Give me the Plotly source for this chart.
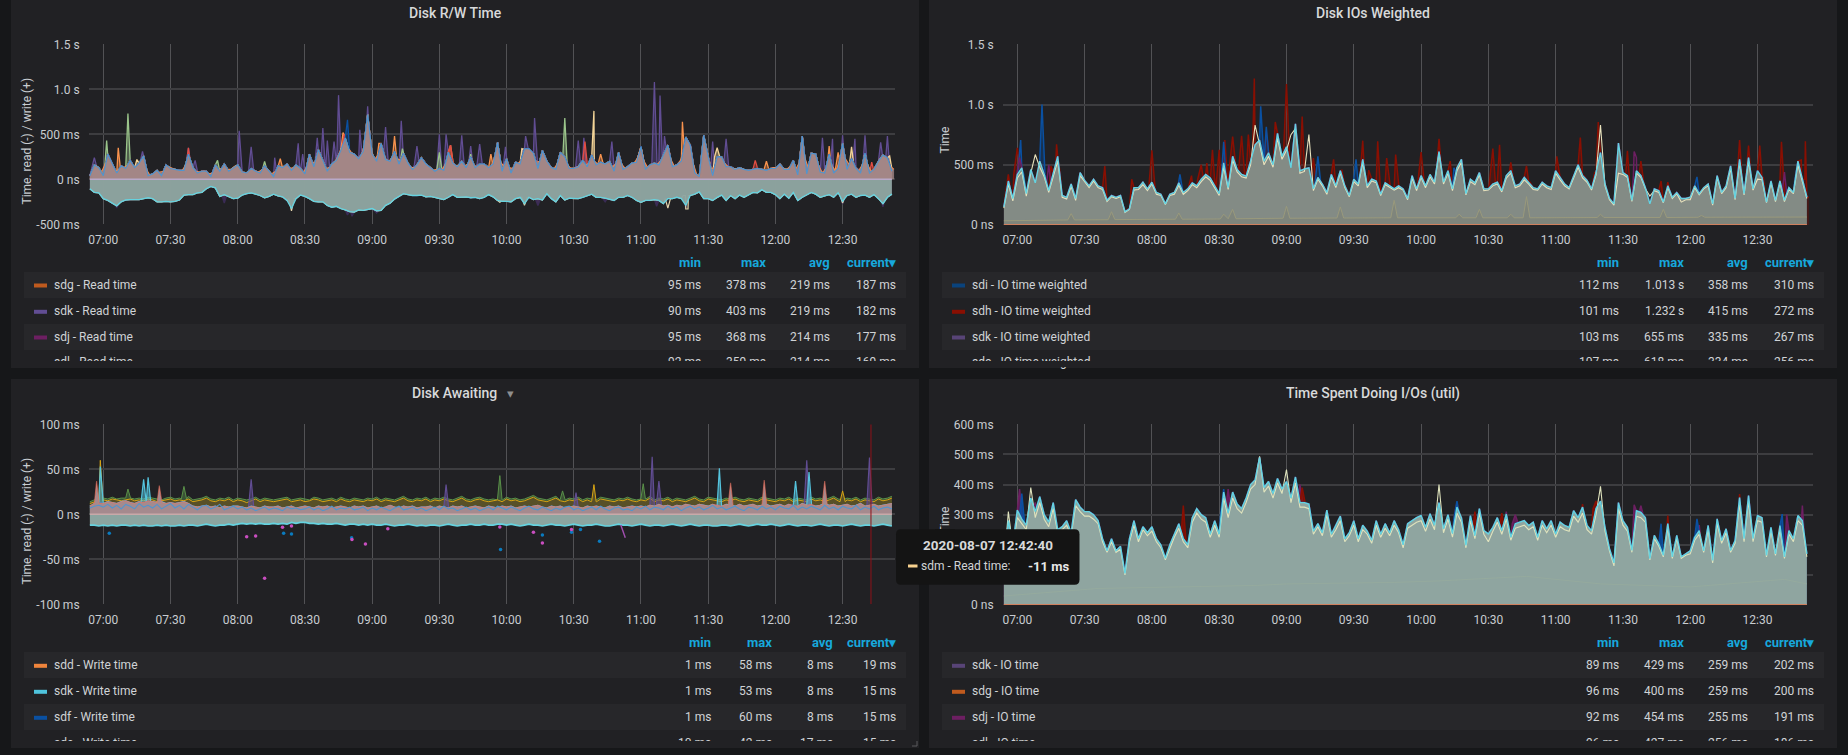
import pandas as pd
import plotly.graph_objects as go

W, H = 1848, 755
DAY = "2020-08-07 "

# ---- shared time axis labels -------------------------------------------------
tick_labels = ["07:00", "07:30", "08:00", "08:30", "09:00", "09:30",
               "10:00", "10:30", "11:00", "11:30", "12:00", "12:30"]

# ---- Disk R/W Time (ms, one sample every two minutes from 06:54) -------------
rw_write = [40, 160, 130,
    40,280,170,70,150,120,210,130,180,260,40,60,100,40,160,120,110,100,100,280,130,70,90,90,30,160,90,170,90,130,
    160,80,70,120,90,70,150,90,30,150,130,170,100,160,120,60,280,140,330,210,90,170,210,320,460,300,280,230,310,720,
    280,200,400,220,200,310,170,290,180,110,160,240,170,130,90,120,100,300,180,140,200,130,250,130,170,170,130,170,410,90,
    230,70,190,170,340,340,290,120,320,200,130,110,300,250,120,120,140,210,140,270,160,190,170,200,90,300,110,140,180,190,
    360,110,160,180,160,270,380,140,160,200,470,380,70,30,490,250,40,250,250,140,140,110,130,110,100,110,120,110,100,120,
    120,170,110,110,210,50,480,60,290,280,80,70,280,70,120,400,110,230,120,70,290,70,110,200,270,240,90]
# second disk, sampled on the odd minutes from 06:55
rw_sdg_write = [60, 150, 70,
    180,190,90,110,130,160,150,130,200,120,40,70,80,90,140,120,100,90,170,170,90,80,90,60,70,110,120,110,110,150,
    110,60,90,100,80,110,120,60,90,140,140,120,130,130,70,140,190,190,240,120,130,180,260,380,360,290,240,250,420,380,
    220,280,280,190,240,230,210,220,130,130,190,190,140,100,110,100,180,220,150,160,150,170,170,130,160,140,140,260,200,140,
    130,120,170,220,320,300,190,200,240,150,110,180,260,170,110,130,160,160,180,200,170,170,180,130,180,180,120,150,180,260,
    220,130,170,160,210,300,240,140,170,310,410,200,50,30,330,120,130,230,190,140,120,120,120,100,100,110,110,100,100,130,
    130,130,110,150,110,200,250,110,270,160,70,140,160,90,240,240,160,140,90,170,170,80,150,240,240,150,110]
rw_read = [-105, -145, -150,
    -215,-235,-270,-295,-250,-230,-225,-225,-225,-215,-205,-215,-250,-250,-245,-250,-245,-230,-175,-170,-170,-150,-145,-105,-80,-95,-190,-170,-190,-215,
    -210,-175,-160,-150,-165,-180,-205,-190,-165,-185,-195,-235,-325,-215,-175,-190,-215,-245,-250,-250,-290,-310,-300,-325,-340,-360,-365,-340,-345,-335,
    -325,-350,-345,-290,-265,-220,-185,-160,-170,-180,-180,-175,-195,-190,-200,-215,-225,-200,-170,-200,-200,-195,-205,-200,-215,-200,-170,-195,-235,-245,
    -245,-250,-215,-200,-270,-200,-225,-215,-230,-160,-215,-250,-180,-230,-210,-215,-215,-200,-180,-165,-200,-200,-210,-225,-235,-200,-200,-180,-200,-235,
    -255,-235,-235,-225,-235,-270,-215,-215,-200,-215,-290,-180,-165,-140,-215,-215,-235,-200,-175,-235,-180,-215,-175,-200,-175,-145,-150,-115,-145,-145,
    -170,-215,-165,-210,-145,-235,-200,-175,-145,-165,-200,-185,-170,-200,-150,-245,-180,-165,-200,-180,-175,-200,-170,-215,-270,-200,-165]
rw_sdk_t = ["06:56","07:17:30","07:38","07:41","08:00:40","08:06","08:16:30","08:27","08:29","08:35:30","08:38","08:40",
            "08:43","08:45","08:54:30","08:58","09:06","09:13","09:20","09:30","09:33","09:40","09:44","09:48","09:59:30",
            "10:08:30","10:12:30","10:32","10:34:30","10:47","11:00","11:06","11:08:30","11:10:30","11:21","11:32","11:38",
            "12:21","12:25:30","12:30","12:35:30","12:40","12:47","12:50"]
rw_sdk_v = [240,310,350,210,540,360,240,400,280,460,570,430,420,935,550,810,580,650,370,500,500,490,370,390,360,
            480,680,430,460,420,370,1080,930,480,400,420,450,460,450,490,450,490,410,480]
rw_sde_t = ["07:01:30","07:11","07:51","08:12","09:13:30","09:30","09:44","10:26"]
rw_sde_v = [430,730,210,200,340,300,280,680]
rw_sdd_t = ["07:06:40","08:19","08:47","09:03","09:10","09:35","09:53","10:42","11:18:30","11:56","12:24","12:28"]
rw_sdd_v = [350,230,520,400,480,380,280,280,640,200,370,300]
rw_sdm_t = ["07:15","10:08","10:38","10:39","11:34","12:34","12:51"]
rw_sdm_v = [220,330,270,760,350,360,260]
rw_sdh_t = ["07:38","08:47:30","09:35","10:35","11:51","12:43"]
rw_sdh_v = [350,500,380,420,210,190]
rw_sdi_t = ["08:49","11:00"]
rw_sdi_v = [660,370]
rw_read_dark_t = ["07:06","07:54","08:24","08:49","08:51","09:02","10:14","10:44","11:07","11:20","12:30","12:48"]
rw_read_dark_v = [-320,-265,-335,-395,-410,-375,-290,-250,-300,-320,-275,-305]
rw_read_cream_t = ["08:24","09:57","10:08","11:12","11:20","11:21","12:30"]
rw_read_cream_v = [-350,-255,-290,-320,-330,-330,-265]

# ---- Disk IOs Weighted (ms) --------------------------------------------------
io_weighted = [150, 365, 220,
    420,475,260,460,350,530,420,285,430,570,245,230,340,220,435,370,325,380,325,310,205,245,230,245,110,135,310,310,355,300,
    355,270,255,175,255,270,350,270,300,350,325,380,420,390,325,260,515,310,570,460,420,405,530,665,705,530,600,500,760,570,
    650,475,840,450,465,475,300,395,340,270,420,325,450,325,245,380,340,545,325,380,365,255,350,325,300,325,300,220,410,300,
    410,325,420,355,610,355,450,300,475,545,260,380,350,435,300,300,340,355,285,410,450,325,340,395,355,310,300,355,325,310,
    450,395,340,310,410,500,410,370,300,435,600,340,220,175,680,435,410,205,450,410,310,175,300,285,190,325,230,270,220,220,
    230,325,260,310,340,175,410,270,325,490,220,545,260,560,300,450,395,190,365,205,365,205,310,270,530,380,230]
io_sdm = [140, 340, 200,
    390,440,240,430,585,480,400,270,410,530,230,215,320,205,410,360,310,365,310,295,195,235,220,235,105,130,290,295,335,285,
    340,255,245,170,245,255,330,255,285,335,310,360,400,370,310,245,480,295,540,440,400,390,500,830,670,500,570,480,720,545,
    620,750,800,430,445,750,285,380,325,255,400,310,430,310,235,360,325,520,310,365,350,245,335,310,290,310,290,210,390,285,
    395,310,400,340,600,340,430,285,450,520,250,360,335,415,285,290,325,340,275,390,430,310,325,375,340,295,290,340,310,295,
    430,375,325,300,390,480,390,355,290,415,830,325,210,165,430,420,395,195,430,395,300,240,285,270,185,310,220,260,190,210,
    210,310,250,300,325,165,395,260,310,470,210,520,250,530,290,380,375,185,350,195,350,195,295,260,500,365,220]
io_sdh_t = ["06:56","07:00","07:15","07:17:30","07:39","07:51","08:00","08:17:40","08:22","08:24:30","08:27","08:30","08:32:30",
            "08:36","08:40","08:43","08:45:40","08:51","08:55","09:00","09:07","09:12","09:21","09:24:40","09:34","09:36:40",
            "09:40:40","09:44:40","09:48:40","10:00","10:08","10:13","10:32","10:35","10:40","10:47","11:00:30","11:11","11:19",
            "11:32","11:38","11:47","11:50","12:22","12:26","12:31","12:40:40","12:49:30","12:51:20"]
io_sdh_v = [420,640,490,670,490,380,620,410,500,515,625,625,705,735,740,750,1215,780,855,1170,900,555,545,455,700,455,
            695,555,585,605,715,530,635,665,520,490,570,725,855,615,530,365,355,705,660,660,690,540,695]
io_sdi_t = ["07:01:30","07:11","08:12:30","08:32","08:48:30","08:51","09:14","09:31","10:16","12:03","12:48"]
io_sdi_v = [705,1000,420,690,985,815,570,545,420,400,530]
io_sdj_t = ["07:01","07:14","11:35","11:36","12:42"]
io_sdj_v = [560,500,610,560,440]
io_low_t = ["06:54","07:22:30","07:24","07:25:30","07:40:30","07:42","07:43:30","08:10:30","08:12","08:13:30","08:30:30","08:32",
            "08:34","08:36","08:37:30","08:58:30","09:00","09:01:30","09:22:30","09:24","09:25:30","09:46:30","09:48","09:49:30",
            "10:15:30","10:17","10:18:30","10:24:30","10:26","10:27:30","10:38:30","10:40","10:41:30","10:45:30","10:47","10:48:30",
            "11:18:30","11:20","11:21:30","11:46:30","11:48","11:49:30","12:03:30","12:05","12:06:30","12:52"]
io_low_v = [35,42,95,42,44,110,45,48,100,48,50,90,52,130,52,56,155,56,58,150,58,60,205,60,60,90,60,60,130,60,60,90,60,60,235,60,
            62,90,62,62,130,62,64,80,64,66]

# ---- Disk Awaiting (ms) ------------------------------------------------------
aw_sde_write = [14, 16, 17,
    18,17,19,17,18,18,19,17,18,17,19,18,17,16,18,19,17,18,17,20,16,17,18,20,17,16,18,17,19,16,
    18,17,16,17,19,16,18,17,16,17,18,19,16,17,18,17,16,19,18,16,17,18,16,19,17,16,18,17,16,18,
    17,19,16,18,17,16,18,20,17,16,18,17,19,16,18,17,19,17,16,18,20,17,16,18,19,17,16,17,18,16,
    19,17,18,16,17,19,21,18,17,16,18,20,17,16,18,17,19,16,18,17,16,19,18,17,16,18,17,19,17,16,
    18,17,20,16,18,17,19,16,18,17,16,18,20,17,16,19,18,17,16,18,17,19,17,16,18,17,16,19,18,17,
    16,18,17,19,16,18,17,16,19,17,18,16,18,20,17,16,18,17,19,16,18,17,16,19,17,18,20]
aw_sdm_write = [12, 14, 15,
    16,15,17,16,15,16,17,15,16,15,17,16,14,15,16,17,15,16,15,17,14,15,16,18,15,14,16,15,17,14,
    16,15,13,15,17,14,16,15,14,15,16,17,14,15,16,14,15,17,16,14,15,16,14,17,15,14,16,15,14,16,
    15,17,14,16,15,14,16,18,15,14,16,15,17,14,16,15,17,15,14,16,18,15,14,16,17,15,14,15,16,14,
    17,15,16,14,15,17,19,16,15,14,16,18,15,14,16,15,17,14,16,15,14,17,16,15,14,16,15,17,15,14,
    16,15,18,14,16,15,17,14,16,15,14,16,18,15,14,17,16,15,14,16,15,17,15,14,16,15,14,17,16,15,
    14,16,15,17,14,16,15,14,17,15,16,14,16,18,15,14,16,15,17,14,16,15,14,17,15,16,18]
aw_sdd_write = [9, 12, 14,
    12,14,13,12,14,15,13,12,14,13,15,14,13,14,12,13,12,13,14,12,9,8,9,10,8,9,7,9,8,9,
    9,8,7,9,8,7,9,8,8,9,7,8,9,7,8,9,8,7,9,8,9,7,8,9,8,7,9,8,9,7,
    8,9,7,8,10,8,7,9,8,9,7,8,8,9,7,9,8,7,9,8,9,7,8,9,8,7,9,8,7,9,
    8,9,7,8,9,8,9,10,8,7,9,8,9,7,8,9,8,7,9,8,9,8,7,9,8,9,7,8,9,8,
    9,8,10,9,11,9,10,8,10,9,11,10,9,11,10,9,11,10,9,11,10,9,11,9,10,11,9,10,11,9,
    10,11,9,11,10,9,12,10,11,9,10,12,10,11,9,10,11,9,10,12,9,10,11,9,10,11,12]
aw_sdf_write = [7, 9, 10,
    8,11,7,10,6,11,9,6,12,8,10,7,11,6,9,12,7,10,6,11,8,5,9,10,6,8,11,5,7,9,
    6,8,5,7,4,6,8,5,7,6,4,8,6,7,5,6,8,5,7,4,6,9,5,7,6,8,5,6,8,4,
    7,5,8,6,4,7,9,5,6,8,5,7,4,6,8,5,9,6,7,4,6,8,5,7,4,6,8,5,9,7,
    5,8,6,4,7,9,6,5,8,6,4,7,5,8,9,5,7,4,6,8,5,9,6,4,7,8,5,6,4,8,
    6,9,5,8,7,5,9,6,8,4,7,9,6,8,5,7,10,6,8,5,7,9,6,4,8,7,5,9,6,8,
    5,9,7,6,10,5,8,6,9,7,5,10,6,8,5,9,7,6,10,5,8,6,9,5,7,8,6]
aw_read = [-12, -12, -13,
    -12,-13,-12,-13,-12,-12,-13,-12,-13,-12,-13,-13,-12,-13,-12,-13,-13,-12,-13,-12,-12,-13,-12,-11,-12,-13,-12,-12,-11,-12,
    -11,-10,-11,-10,-11,-10,-11,-11,-10,-11,-10,-11,-9,-10,-9,-9,-10,-10,-11,-10,-11,-11,-10,-11,-12,-11,-11,-12,-11,-12,
    -11,-12,-12,-11,-12,-13,-12,-12,-11,-12,-13,-12,-13,-12,-12,-13,-12,-11,-12,-13,-12,-12,-11,-12,-12,-11,-12,-12,-11,-11,
    -12,-11,-12,-13,-12,-11,-12,-12,-13,-12,-11,-12,-12,-13,-12,-11,-12,-13,-12,-12,-11,-12,-13,-13,-12,-11,-12,-12,-13,-12,
    -11,-12,-13,-12,-12,-13,-12,-11,-12,-13,-12,-11,-12,-13,-12,-12,-13,-13,-12,-12,-13,-12,-11,-12,-13,-12,-11,-12,-12,-11,
    -12,-13,-12,-11,-12,-13,-12,-12,-13,-12,-11,-12,-13,-12,-12,-13,-12,-11,-12,-13,-12,-12,-13,-12,-11,-12,-13]
aw_sdk_t = ["08:06","09:33","10:31","11:05","11:08","12:14","12:42"]
aw_sdk_v = [39,33,24,64,37,60,63]
aw_sdg_t = ["07:11","07:36","09:57","10:25","11:01"]
aw_sdg_v = [28,31,43,26,34]
aw_sdd_t = ["06:57","07:25","11:40","11:55","12:22"]
aw_sdd_v = [37,32,35,38,37]
aw_sdl_t = ["06:58:40","07:18","07:20","11:35","12:09","12:15"]
aw_sdl_v = [53,39,41,51,37,47]
aw_sdm_t = ["06:58:40","10:39","12:30"]
aw_sdm_v = [60,33,26]
aw_stray_blue_t = ["07:02:40","08:20:30","08:24","08:50:50","09:57:20","10:16","10:29","10:33","10:41:30"]
aw_stray_blue_v = [-21,-21,-22,-26,-39,-23,-20,-17,-30]
aw_stray_pink_t = ["08:04","08:08","08:12","08:20","08:24","08:51","08:57","09:07","09:57","10:12","10:16","10:29"]
aw_stray_pink_v = [-25,-24,-71,-14.5,-13,-28,-33,-16,-14,-20,-32,-17]
aw_tail_t = ["10:51","10:53"]
aw_tail_v = [-12,-26]
cursor_time = DAY + "12:42:40"

# ---- Time Spent Doing I/Os (ms) ----------------------------------------------
util_sdk = [130, 280, 200,
    315,285,265,355,310,360,300,275,340,250,260,280,240,350,325,310,310,300,280,220,180,220,180,195,105,220,280,220,260,240,
    260,220,200,155,200,235,270,220,200,290,320,300,290,235,280,235,375,305,375,335,320,355,400,415,490,390,410,370,420,385,
    410,355,425,340,340,335,245,270,240,315,235,265,295,220,240,280,220,265,245,215,280,235,270,240,280,250,200,270,280,290,
    297,258,303,265,340,253,300,237,325,290,198,297,230,320,247,236,258,290,247,302,225,270,275,280,264,275,225,280,253,280,
    236,275,264,258,313,290,325,264,247,320,345,258,187,140,340,280,258,181,313,308,290,154,231,203,165,270,160,231,160,170,
    180,225,247,180,264,148,286,214,253,181,214,357,220,363,220,297,290,165,258,170,264,160,247,220,297,280,170]
util_sdm = [120, 310, 190,
    290,270,250,390,290,340,285,260,320,240,250,265,230,330,310,295,295,285,270,210,175,210,175,185,100,210,265,210,250,230,
    245,210,190,150,190,225,255,210,190,275,305,285,275,225,265,225,355,290,355,320,305,340,385,400,494,375,395,355,405,370,
    450,340,405,325,325,320,235,260,230,300,225,250,280,210,230,265,210,250,235,205,265,225,255,230,265,240,190,255,265,275,
    280,245,285,250,400,240,285,225,305,275,190,280,220,305,235,210,245,275,235,285,215,255,260,265,250,260,215,265,240,265,
    225,260,250,245,295,275,305,250,235,300,394,245,180,130,320,265,245,175,295,290,275,150,220,195,160,255,155,220,155,165,
    170,215,235,175,250,140,270,205,240,175,205,335,210,345,210,280,275,160,245,165,250,155,235,210,280,265,160]
util_sdj_t = ["07:01","07:08","08:34","09:06","10:38","10:42","11:35","11:38","12:04","12:43","12:50"]
util_sdj_v = [385,340,385,400,310,300,333,330,265,300,330]
util_sdh_t = ["08:14","09:07","10:16","10:24","10:36","11:12","11:18","11:50","12:22"]
util_sdh_v = [330,390,340,310,305,335,345,297,368]
util_sdi_t = ["07:02","08:32","10:16","11:47","12:03","12:41"]
util_sdi_v = [370,385,345,270,286,302]
util_low_t = ["06:54","07:36","08:12","08:47","09:00","09:48","10:08","10:47","11:20","12:00","12:42","12:52"]
util_low_v = [30,55,60,65,70,75,80,95,70,60,85,70]

# ---- legend tables -----------------------------------------------------------
legend_columns = ["min", "max", "avg", "current▾"]
legend_rw = [("sdg - Read time", "95 ms", "378 ms", "219 ms", "187 ms"),
             ("sdk - Read time", "90 ms", "403 ms", "219 ms", "182 ms"),
             ("sdj - Read time", "95 ms", "368 ms", "214 ms", "177 ms"),
             ("sdl - Read time", "92 ms", "359 ms", "214 ms", "169 ms")]
legend_io = [("sdi - IO time weighted", "112 ms", "1.013 s", "358 ms", "310 ms"),
             ("sdh - IO time weighted", "101 ms", "1.232 s", "415 ms", "272 ms"),
             ("sdk - IO time weighted", "103 ms", "655 ms", "335 ms", "267 ms"),
             ("sdc - IO time weighted", "107 ms", "618 ms", "334 ms", "256 ms")]
legend_aw = [("sdd - Write time", "1 ms", "58 ms", "8 ms", "19 ms"),
             ("sdk - Write time", "1 ms", "53 ms", "8 ms", "15 ms"),
             ("sdf - Write time", "1 ms", "60 ms", "8 ms", "15 ms"),
             ("sde - Write time", "10 ms", "42 ms", "17 ms", "15 ms")]
legend_util = [("sdk - IO time", "89 ms", "429 ms", "259 ms", "202 ms"),
               ("sdg - IO time", "96 ms", "400 ms", "259 ms", "200 ms"),
               ("sdj - IO time", "92 ms", "454 ms", "255 ms", "191 ms"),
               ("sdl - IO time", "96 ms", "427 ms", "256 ms", "186 ms")]
swatches_rw = ["#bf5a1e", "#614d93", "#6d1f62"]
swatches_io = ["#0a437c", "#890f02", "#584477"]
swatches_aw = ["#ef843c", "#4fc3dc", "#0a50a1"]
swatches_util = ["#584477", "#bf5a1e", "#6d1f62"]

PAGE, PANEL, ROW = "#161719", "#212124", "#27272a"
TEXT, HEAD = "#d0d3d6", "#17a8dc"
FONT = "Roboto"

fig = go.Figure()
annotations, shapes = [], []


def grid_of(values, start="06:54"):
    """Two-minute sample times for a full-length series."""
    assert len(values) == 180, len(values)
    return pd.date_range(DAY + start, periods=len(values), freq="2min")


def stamps(clock_times):
    return [pd.Timestamp(DAY + t) for t in clock_times]


def with_peaks(base, peak_times, peak_values, foot_seconds=70):
    """A series that follows `base` and carries its own read-off peaks as narrow excursions."""
    grid = grid_of(base)
    s = pd.Series(base, index=grid, dtype=float)
    foot = pd.Timedelta(seconds=foot_seconds)
    for t, v in zip(stamps(peak_times), peak_values):
        left = max(grid.searchsorted(t, side="right") - 1, 0)
        right = min(left + 1, len(base) - 1)
        rest = min(base[left], base[right]) if v > 0 else max(base[left], base[right])
        s.loc[t - foot] = rest
        s.loc[t + foot] = rest
        s.loc[t] = v
    return s.sort_index()


def tint(color, alpha):
    r, g, b = int(color[1:3], 16), int(color[3:5], 16), int(color[5:7], 16)
    return f"rgba({r},{g},{b},{alpha})"


def line(panel, x, y, color, width=1.2, fill=None):
    fig.add_trace(go.Scatter(
        x=x, y=y, mode="lines", line=dict(color=color, width=width),
        fill="tozeroy" if fill else None, fillcolor=fill,
        xaxis=f"x{panel}", yaxis=f"y{panel}", hoverinfo="skip", showlegend=False))


def text(x, y, s, size=12, color=TEXT, anchor="left", weight=400, angle=0):
    annotations.append(dict(
        x=x / W, y=1 - y / H, xref="paper", yref="paper", text=s,
        showarrow=False, xanchor=anchor, yanchor="middle", textangle=angle,
        font=dict(family=FONT, size=size, color=color, weight=weight), borderpad=0, borderwidth=0))


def cover(x0, y0, x1, y1, color):
    """Opaque strip laid over text, used where a table scrolls out of its panel."""
    annotations.append(dict(
        x=x0 / W, y=1 - y0 / H, xref="paper", yref="paper", text=" ", showarrow=False,
        xanchor="left", yanchor="top", width=x1 - x0, height=y1 - y0, bgcolor=color,
        font=dict(size=1), borderpad=0, borderwidth=0))


def rect(x0, y0, x1, y1, color, layer="below"):
    shapes.append(dict(type="rect", xref="paper", yref="paper", x0=x0 / W, x1=x1 / W,
                       y0=1 - y0 / H, y1=1 - y1 / H, fillcolor=color, line_width=0, layer=layer))


def table(left, right, text_x, swatch_x, header_y, row_ys, bands, colx, rows, swatches, clip_y, panel_bottom):
    for y0, y1 in bands:
        rect(left, y0, right, y1, ROW)
    for name, x in zip(legend_columns, colx):
        text(x, header_y, name, 13, HEAD, "right", 700)
    for i, row in enumerate(rows):
        y = row_ys[i]
        text(text_x, y, row[0])
        for cell, x in zip(row[1:], colx):
            text(x, y, cell, anchor="right")
        if i < len(swatches):
            shapes.append(dict(type="path", xref="paper", yref="paper",
                               path=f"M {swatch_x/W} {1-(y-1.2)/H} L {(swatch_x+13)/W} {1-(y-1.2)/H} "
                                    f"L {(swatch_x+13)/W} {1-(y+2.8)/H} L {swatch_x/W} {1-(y+2.8)/H} Z",
                               fillcolor=swatches[i], line_width=0, layer="below"))
    cover(left - 2, clip_y, right + 2, panel_bottom - 1, PANEL)


def axes(panel, px_left, px_right, px_top, px_bottom, xrange, yrange, yticks, ylabels):
    xkey, ykey = ("xaxis", "yaxis") if panel == 1 else (f"xaxis{panel}", f"yaxis{panel}")
    fig.update_layout({
        xkey: dict(domain=[px_left / W, px_right / W], anchor=f"y{panel}" if panel > 1 else "y",
                   type="date", range=xrange, tickmode="array", automargin=False,
                   tickvals=[DAY + t for t in tick_labels], ticktext=tick_labels,
                   showgrid=True, gridcolor="#525255", gridwidth=1, zeroline=False, showline=False,
                   ticks="outside", ticklen=4, tickcolor="rgba(0,0,0,0)",
                   tickfont=dict(family=FONT, size=12, color="#c8ccd0")),
        ykey: dict(domain=[1 - px_bottom / H, 1 - px_top / H], anchor=f"x{panel}" if panel > 1 else "x",
                   range=yrange, tickmode="array", tickvals=yticks, ticktext=ylabels, automargin=False,
                   showgrid=True, gridcolor="#3d3d40", gridwidth=1.5, zeroline=False, showline=False,
                   ticks="outside", ticklen=6, tickcolor="rgba(0,0,0,0)",
                   tickfont=dict(family=FONT, size=12, color="#c8ccd0")),
    })


# ---- panels and titles -------------------------------------------------------
for x0, y0, x1, y1 in [(11, 0, 919, 368), (929, 0, 1837, 368), (11, 379, 919, 748), (929, 379, 1837, 748)]:
    rect(x0, y0, x1, y1, PANEL)

text(455, 13, "Disk R/W Time", 14, "#d8d9da", "center", 500)
text(1373, 13, "Disk IOs Weighted", 14, "#d8d9da", "center", 500)
text(454, 393, "Disk Awaiting", 14, "#d8d9da", "center", 500)
text(510, 393, "▾", 13, "#8e8e8e", "center")
text(1373, 393, "Time Spent Doing I/Os (util)", 14, "#d8d9da", "center", 500)

# panel resize handle
shapes.append(dict(type="path", xref="paper", yref="paper", line=dict(color="#5a5a5d", width=1), layer="below",
                   path=f"M {917/W} {1-741/H} L {917/W} {1-746/H} L {912/W} {1-746/H}"))

# ---- Disk R/W Time -----------------------------------------------------------
axes(1, 89, 894.5, 44.3, 224.3, [DAY + "06:53:37", DAY + "12:53:10"], [-500, 1500],
     [-500, 0, 500, 1000, 1500], ["-500 ms", "0 ns", "500 ms", "1.0 s", "1.5 s"])
t = grid_of(rw_write)
for tt, vv, col in [(rw_sdk_t, rw_sdk_v, "#614d93"), (rw_sde_t, rw_sde_v, "#9ac48a"),
                    (rw_sdd_t, rw_sdd_v, "#f9934e"), (rw_sdm_t, rw_sdm_v, "#f4d598"),
                    (rw_sdh_t, rw_sdh_v, "#e24d42"), (rw_sdi_t, rw_sdi_v, "#0a50a1")]:
    s = with_peaks(rw_write, tt, vv)
    line(1, s.index, s.values, col, 1.3, tint(col, 0.4))
line(1, grid_of(rw_sdg_write, "06:55"), rw_sdg_write, "#f08a52", 1.1, "rgba(163,134,134,0.8)")
line(1, t, rw_write, "#5195ce", 1.15, "rgba(163,134,134,0.95)")
s = with_peaks(rw_read, rw_read_dark_t, rw_read_dark_v)
line(1, s.index, s.values, "#3a2b55", 1.4, "rgba(70,50,90,0.9)")
s = with_peaks(rw_read, rw_read_cream_t, rw_read_cream_v)
line(1, s.index, s.values, "#e6d6ae", 1.2)
line(1, t, rw_read, "#65d3e0", 1.3, "rgba(143,165,160,0.96)")
line(1, [t[0], t[-1]], [0, 0], "#b9a9c9", 1.5)

# ---- Disk IOs Weighted -------------------------------------------------------
axes(2, 1003, 1812.7, 44.3, 225, [DAY + "06:53:37", DAY + "12:54:36"], [0, 1500],
     [0, 500, 1000, 1500], ["0 ns", "500 ms", "1.0 s", "1.5 s"])
t = grid_of(io_weighted)
s = with_peaks(io_weighted, io_sdh_t, io_sdh_v, 95)
line(2, s.index, s.values, "#890f02", 1.5, "rgba(137,15,2,0.35)")
s = with_peaks(io_weighted, io_sdi_t, io_sdi_v, 80)
line(2, s.index, s.values, "#0a50a1", 1.5, "rgba(10,80,161,0.35)")
s = with_peaks(io_weighted, io_sdj_t, io_sdj_v, 80)
line(2, s.index, s.values, "#6d1f62", 1.5)
line(2, t, io_weighted, "#65d3e0", 0, "rgb(131,139,133)")
line(2, grid_of(io_sdm), io_sdm, "#e8e2bd", 1.1)
line(2, t, io_weighted, "#65d3e0", 1.4)
line(2, stamps(io_low_t), io_low_v, "#99997c", 1, "rgba(120,118,105,0.3)")
line(2, [t[0], t[-1]], [0, 0], "#d0805e", 1.8)

# ---- Disk Awaiting -----------------------------------------------------------
axes(3, 89, 894.5, 424.3, 604.3, [DAY + "06:53:37", DAY + "12:53:10"], [-100, 100],
     [-100, -50, 0, 50, 100], ["-100 ms", "-50 ms", "0 ns", "50 ms", "100 ms"])
t = grid_of(aw_sdm_write)
s = with_peaks(aw_sde_write, aw_sdg_t, aw_sdg_v)
line(3, s.index, s.values, "#5a9149", 1.0, "rgba(98,158,81,0.4)")
s = with_peaks(aw_sdm_write, aw_sdm_t, aw_sdm_v)
line(3, s.index, s.values, "#d8a414", 1.0, "rgb(88,80,40)")
s = with_peaks(aw_sdd_write, aw_sdk_t, aw_sdk_v)
line(3, s.index, s.values, "#614d93", 1.2, "rgba(97,77,147,0.5)")
s = with_peaks(aw_sdd_write, aw_sdl_t, aw_sdl_v)
line(3, s.index, s.values, "#55c4de", 1.2, "rgba(85,196,222,0.5)")
s = with_peaks(aw_sdd_write, aw_sdd_t, aw_sdd_v)
line(3, s.index, s.values, "rgba(242,112,90,0.6)", 1.1, "rgb(165,138,142)")
line(3, t, aw_sdf_write, "#5195ce", 1.1)
line(3, t, aw_read, "#65d3e0", 1.7, "rgb(140,165,160)")
line(3, [t[0], t[-1]], [0, 0], "#c9a9a9", 1.5)
line(3, stamps(aw_tail_t), aw_tail_v, "#a24fb0", 1.4)
for tt, vv, col in [(aw_stray_blue_t, aw_stray_blue_v, "#0a7bbf"), (aw_stray_pink_t, aw_stray_pink_v, "#c94ec0")]:
    fig.add_trace(go.Scatter(x=stamps(tt), y=vv, mode="markers", marker=dict(color=col, size=3.5),
                             xaxis="x3", yaxis="y3", hoverinfo="skip", showlegend=False))
shapes.append(dict(type="line", xref="x3", yref="y3", x0=cursor_time, x1=cursor_time, y0=-100, y1=100,
                   line=dict(color="#8f1218", width=1), layer="above"))

# ---- Time Spent Doing I/Os ---------------------------------------------------
axes(4, 1003, 1812.7, 424.3, 605, [DAY + "06:53:37", DAY + "12:54:36"], [0, 600],
     [0, 100, 200, 300, 400, 500, 600], ["0 ns", "", "", "300 ms", "400 ms", "500 ms", "600 ms"])
t = grid_of(util_sdk)
for tt, vv, col in [(util_sdj_t, util_sdj_v, "#6d1f62"), (util_sdh_t, util_sdh_v, "#890f02"),
                    (util_sdi_t, util_sdi_v, "#0a50a1")]:
    s = with_peaks(util_sdk, tt, vv, 80)
    line(4, s.index, s.values, col, 1.5, tint(col, 0.8))
line(4, t, util_sdk, "#65d3e0", 0, "rgb(143,165,160)")
line(4, grid_of(util_sdm), util_sdm, "#dfe3bd", 1.1)
line(4, t, util_sdk, "#65d3e0", 1.4)
line(4, stamps(util_low_t), util_low_v, "#95aa9e", 1)
line(4, [t[0], t[-1]], [0, 0], "#d0805e", 1.8)

# ---- legends -----------------------------------------------------------------
upper_rows, lower_rows = [284.7, 311, 336.7, 362], [665, 691, 717, 743]
upper_bands, lower_bands = [(272, 298.3), (324, 350)], [(652, 678), (704, 730)]
table(24, 906, 53.6, 34, 262, upper_rows, upper_bands, [701, 766, 830, 896], legend_rw, swatches_rw, 360.7, 368)
table(942, 1824, 971.7, 952, 262, upper_rows, upper_bands, [1619, 1684, 1748, 1814], legend_io, swatches_io, 360.7, 368)
table(24, 906, 53.6, 34, 642, lower_rows, lower_bands, [711, 772, 833, 896], legend_aw, swatches_aw, 740.6, 748)
table(942, 1824, 971.7, 952, 642, lower_rows, lower_bands, [1619, 1684, 1748, 1814], legend_util, swatches_util, 740.6, 748)

# ---- y axis titles -----------------------------------------------------------
text(26.5, 141, "Time. read (-) / write (+)", 12, "#c8ccd0", "center", angle=-90)
text(26.5, 521, "Time. read (-) / write (+)", 12, "#c8ccd0", "center", angle=-90)
text(944.5, 140, "Time", 12, "#c8ccd0", "center", angle=-90)
text(944.5, 520, "Time", 12, "#c8ccd0", "center", angle=-90)

# ---- hover tooltip pinned over the lower panels ------------------------------
x0, y0, x1, y1, r = 896 / W, 1 - 529.3 / H, 1079.5 / W, 1 - 584.7 / H, 5
rx, ry = r / W, r / H
shapes.append(dict(type="path", xref="paper", yref="paper", layer="above", line_width=0, fillcolor="#141414",
                   path=f"M {x0+rx} {y0} L {x1-rx} {y0} Q {x1} {y0} {x1} {y0-ry} L {x1} {y1+ry} "
                        f"Q {x1} {y1} {x1-rx} {y1} L {x0+rx} {y1} Q {x0} {y1} {x0} {y1+ry} L {x0} {y0-ry} "
                        f"Q {x0} {y0} {x0+rx} {y0} Z"))
cover(935, 529.3, 955, 540, "#141414")
text(988, 545, "2020-08-07 12:42:40", 13.5, "#d8d9da", "center", 700)
rect(908, 564.5, 917.5, 567.5, "#f8d28f", "above")
text(920.7, 566, "sdm - Read time:", 12, "#d0d3d6")
text(1069.5, 566, "-11 ms", 13, "#e8e8e8", "right", 700)

fig.update_layout(
    width=W, height=H, autosize=False, margin=dict(l=0, r=0, t=0, b=0, pad=0),
    paper_bgcolor=PAGE, plot_bgcolor="rgba(0,0,0,0)", showlegend=False, hovermode=False,
    font=dict(family=FONT), annotations=annotations, shapes=shapes)

fig.write_html("out.html", config=dict(displayModeBar=False))
